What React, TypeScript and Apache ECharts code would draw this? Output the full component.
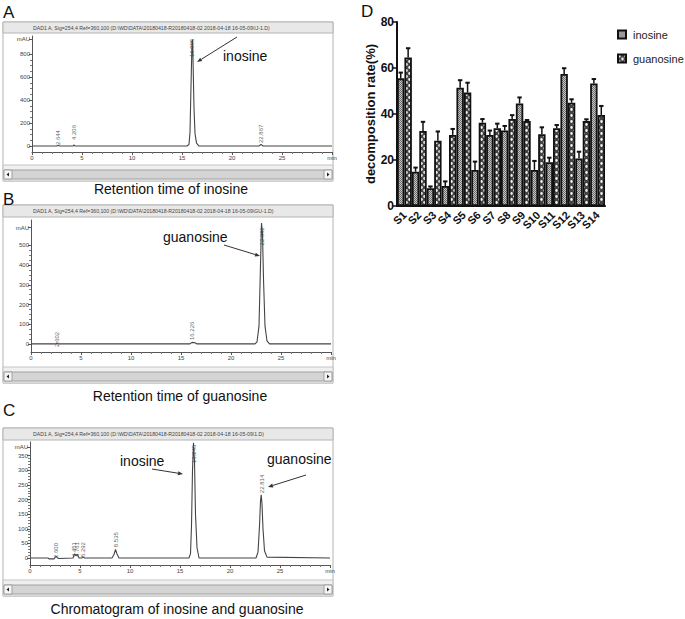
import React, { useEffect, useRef } from 'react';
import * as echarts from 'echarts';

const FONT = '"Liberation Sans", Arial, sans-serif';

// ---------- Panel D data ----------
const samples = ['S1', 'S2', 'S3', 'S4', 'S5', 'S6', 'S7', 'S8', 'S9', 'S10', 'S11', 'S12', 'S13', 'S14'];
const inosineRate = [55.5, 14.9, 7.7, 8.7, 51.4, 15.7, 30.9, 32.8, 44.6, 15.7, 19.0, 57.4, 20.7, 53.3];
const inosineErr = [2.5, 1.8, 0.8, 2.0, 3.3, 3.6, 1.9, 2.0, 2.6, 3.9, 2.0, 2.5, 2.9, 1.9];
const guanosineRate = [64.6, 32.6, 28.4, 30.9, 49.3, 36.2, 33.8, 37.8, 37.0, 31.2, 33.8, 44.9, 37.0, 39.6];
const guanosineErr = [4.0, 4.0, 4.0, 2.6, 4.3, 1.6, 2.0, 1.7, 0.4, 3.0, 1.4, 1.5, 0.7, 3.9];
const rateTicks = [0, 20, 40, 60, 80];

// ---------- Chromatogram A (inosine) ----------
const timesA = [0, 2.5, 2.6, 2.7, 2.8, 4.1, 4.2, 4.3, 15.5, 15.7, 15.8, 15.9, 16.0, 16.05, 16.1, 16.2, 16.3, 16.45, 16.7, 22.7, 22.9, 23.1, 30];
const signalA = [0, 0, 6, 3, 0, 0, 9, 0, 0, 15, 120, 520, 905, 925, 760, 330, 110, 25, 0, 0, 14, 0, 0];
const peakNamesA = ['2.644', '4.206', '16.005', '22.867'];
const peakTimesA = [2.6, 4.2, 16.0, 22.9];
const peakLabelBaseA = [8, 52, 774, 26];
const ticksA = [0, 200, 400, 600, 800];

// ---------- Chromatogram B (guanosine) ----------
const timesB = [0, 2.5, 2.6, 2.7, 15.9, 16.1, 16.4, 16.6, 22.4, 22.6, 22.8, 22.95, 23.05, 23.15, 23.25, 23.4, 23.6, 23.85, 30];
const signalB = [0, 0, 5, 0, 0, 8, 6, 0, 0, 10, 90, 400, 614, 560, 330, 90, 15, 0, 0];
const peakNamesB = ['2.602', '16.226', '22.962'];
const peakTimesB = [2.6, 16.1, 23.05];
const peakLabelBaseB = [-15, 20, 500];
const ticksB = [0, 100, 200, 300, 400, 500];

// ---------- Chromatogram C (mixture) ----------
const timesC = [0, 1.8, 1.9, 2.4, 2.6, 2.75, 2.9, 4.3, 4.45, 4.6, 4.75, 4.9, 5.2, 5.3, 5.45, 8.2, 8.4, 8.55, 8.7, 8.9, 15.9, 16.05, 16.15, 16.25, 16.35, 16.45, 16.55, 16.7, 16.9, 22.6, 22.8, 22.95, 23.05, 23.12, 23.2, 23.3, 23.45, 23.7, 30];
const signalC = [0, 0, -3, -3, 6, 0, -2, 0, 14, 8, 12, 0, 0, 4, 0, 0, 12, 29, 14, 0, 0, 15, 110, 300, 394, 330, 150, 35, 0, 0, 20, 110, 195, 216, 185, 100, 25, 3, 0];
const peakNamesC = ['2.600', '4.451', '4.761', '5.292', '8.535', '16.245', '22.814'];
const peakTimesC = [2.6, 4.4, 4.7, 5.3, 8.6, 16.35, 23.2];
const peakLabelBaseC = [0, 3, 3, 3, 37, 325, 222];
const ticksC = [0, 50, 100, 150, 200, 250, 300, 350];

const headerA = 'DAD1 A, Sig=254,4 Ref=360,100 (D:\\WD\\DATA\\20180418-R20180418-02 2018-04-18 16-05-09\\IJ-1.D)';
const headerB = 'DAD1 A, Sig=254,4 Ref=360,100 (D:\\WD\\DATA\\20180418-R20180418-02 2018-04-18 16-05-09\\GU-1.D)';
const headerC = 'DAD1 A, Sig=254,4 Ref=360,100 (D:\\WD\\DATA\\20180418-R20180418-02 2018-04-18 16-05-09\\1.D)';

function makePattern(kind: 'ino' | 'gua') {
  const c = document.createElement('canvas');
  if (kind === 'ino') {
    c.width = 2; c.height = 2;
    const g = c.getContext('2d')!;
    g.fillStyle = '#c6c6c6'; g.fillRect(0, 0, 2, 2);
    g.fillStyle = '#6c6c6c'; g.fillRect(0, 0, 1, 1); g.fillRect(1, 1, 1, 1);
    return { image: c.toDataURL(), repeat: 'repeat', imageWidth: 2, imageHeight: 2 };
  }
  c.width = 6; c.height = 6;
  const g = c.getContext('2d')!;
  g.fillStyle = '#444444'; g.fillRect(0, 0, 6, 6);
  g.fillStyle = '#f2f2f2';
  g.beginPath(); g.ellipse(1.5, 1.5, 1.25, 1.4, 0, 0, Math.PI * 2); g.fill();
  g.beginPath(); g.ellipse(4.5, 4.5, 1.25, 1.4, 0, 0, Math.PI * 2); g.fill();
  return { image: c.toDataURL(), repeat: 'repeat', imageWidth: 6, imageHeight: 6 };
}

function arrow(x1: number, y1: number, x2: number, y2: number) {
  const dx = x2 - x1, dy = y2 - y1, L = Math.hypot(dx, dy), ux = dx / L, uy = dy / L;
  const hl = 5, hw = 2;
  const bx = x2 - ux * hl, by = y2 - uy * hl;
  return [
    { type: 'line', z: 10, shape: { x1, y1, x2: bx, y2: by }, style: { stroke: '#333', lineWidth: 1 } },
    { type: 'polygon', z: 10, shape: { points: [[x2, y2], [bx - uy * hw, by + ux * hw], [bx + uy * hw, by - ux * hw]] }, style: { fill: '#333' } },
  ];
}

function windowFrame(y0: number, headerH: number, scrollY: number, bottom: number, header: string) {
  return [
    { type: 'rect', z: 0, shape: { x: 3, y: y0, width: 330, height: bottom - y0 }, style: { fill: '#ffffff', stroke: '#b4b4b4', lineWidth: 1 } },
    { type: 'rect', z: 1, shape: { x: 3, y: y0, width: 330, height: headerH }, style: { fill: '#e8e8e8', stroke: '#b4b4b4', lineWidth: 1 } },
    { type: 'text', z: 2, x: 33, y: y0 + headerH / 2, style: { text: header, fontSize: 5.2, fontFamily: FONT, fill: '#444', align: 'left', verticalAlign: 'middle' } },
    { type: 'rect', z: 1, shape: { x: 3, y: scrollY - 5, width: 330, height: bottom - scrollY + 5 }, style: { fill: '#f0f0f0', stroke: '#c4c4c4', lineWidth: 1 } },
    { type: 'rect', z: 2, shape: { x: 4, y: scrollY, width: 328, height: 9 }, style: { fill: '#d4d4d4', stroke: '#a0a0a0', lineWidth: 1 } },
    { type: 'rect', z: 3, shape: { x: 4, y: scrollY, width: 8, height: 9 }, style: { fill: '#f6f6f6', stroke: '#a0a0a0', lineWidth: 1 } },
    { type: 'rect', z: 3, shape: { x: 324, y: scrollY, width: 8, height: 9 }, style: { fill: '#f6f6f6', stroke: '#a0a0a0', lineWidth: 1 } },
    { type: 'polygon', z: 4, shape: { points: [[6.5, scrollY + 4.5], [9, scrollY + 2.5], [9, scrollY + 6.5]] }, style: { fill: '#222' } },
    { type: 'polygon', z: 4, shape: { points: [[329.5, scrollY + 4.5], [327, scrollY + 2.5], [327, scrollY + 6.5]] }, style: { fill: '#222' } },
  ];
}

function text(t: string, x: number, y: number, size: number, align = 'center', extra: any = {}) {
  return { type: 'text', z: 10, x, y, style: { text: t, fontSize: size, fontFamily: FONT, fill: '#111', align, verticalAlign: 'middle', ...extra } };
}

function chromX(gridIndex: number) {
  return {
    type: 'value', gridIndex, min: 0, max: 30, interval: 5,
    axisLine: { onZero: false, lineStyle: { color: '#555', width: 1 } },
    axisTick: { length: 3, lineStyle: { color: '#555' } },
    minorTick: { show: true, splitNumber: 5, length: 2, lineStyle: { color: '#777' } },
    splitLine: { show: false }, minorSplitLine: { show: false },
    axisLabel: { fontSize: 6, color: '#444', margin: 3, fontFamily: FONT, formatter: (v: number) => (v === 30 ? 'min' : String(v)) },
  };
}

function chromY(gridIndex: number, min: number, max: number, ticks: number[], mau: number, minorStep: number) {
  const minor: number[] = [];
  for (let v = 0; v <= ticks[ticks.length - 1]; v += minorStep) if (!ticks.includes(v)) minor.push(v);
  return [
    {
      type: 'value', gridIndex, min, max, position: 'left',
      axisLine: { show: true, onZero: false, lineStyle: { color: '#555', width: 1 } },
      axisTick: { show: true, length: 3, customValues: [...ticks, mau], lineStyle: { color: '#555' } },
      axisLabel: { customValues: [...ticks, mau], fontSize: 6, color: '#444', margin: 2, fontFamily: FONT, formatter: (v: number) => (v === mau ? 'mAU' : String(v)) },
      splitLine: { show: false },
    },
    {
      type: 'value', gridIndex, min, max, position: 'left', offset: 0,
      axisLine: { show: false, onZero: false },
      axisTick: { show: true, length: 2, customValues: minor, lineStyle: { color: '#777' } },
      axisLabel: { show: false },
      splitLine: { show: false },
    },
  ];
}

function chromLine(xi: number, yi: number, times: number[], vals: number[]) {
  return {
    type: 'line', xAxisIndex: xi, yAxisIndex: yi, symbol: 'none', silent: true,
    lineStyle: { color: '#444', width: 1.1 },
    data: times.map((t, i) => [t, vals[i]]),
  };
}

function peakLabels(xi: number, yi: number, names: string[], times: number[], bases: number[]) {
  return {
    type: 'scatter', xAxisIndex: xi, yAxisIndex: yi, symbolSize: 1, silent: true,
    itemStyle: { color: 'rgba(0,0,0,0)' },
    label: { show: true, formatter: '{b}', rotate: 90, position: 'inside', align: 'left', verticalAlign: 'middle', fontSize: 6, color: '#333', fontFamily: FONT },
    data: names.map((n, i) => ({ name: n, value: [times[i], bases[i]] })),
  };
}

function errorSeries(vals: number[], errs: number[], side: number) {
  return {
    type: 'custom', xAxisIndex: 3, yAxisIndex: 6, z: 5, silent: true,
    data: vals.map((v, i) => [i, v, errs[i]]),
    encode: { x: 0, y: 1 },
    renderItem: (params: any, api: any) => {
      const idx = api.value(0), v = api.value(1), e = api.value(2);
      const bw = api.size([1, 0])[0];
      const base = api.coord([idx, v]);
      const top = api.coord([idx, v + e]);
      const x = base[0] + side * bw / 4;
      return {
        type: 'group',
        children: [
          { type: 'line', shape: { x1: x, y1: base[1], x2: x, y2: top[1] }, style: { stroke: '#111', lineWidth: 1.5 } },
          { type: 'line', shape: { x1: x - 2.2, y1: top[1], x2: x + 2.2, y2: top[1] }, style: { stroke: '#111', lineWidth: 2 } },
        ],
      };
    },
  };
}

export default function App() {
  const ref = useRef<HTMLDivElement>(null);
  useEffect(() => {
    const chart = echarts.init(ref.current!, null, { renderer: 'svg' });
    const inoFill = makePattern('ino');
    const guaFill = makePattern('gua');

    const graphic: any[] = [
      ...windowFrame(22, 11, 170, 181, headerA),
      ...windowFrame(205, 12, 372, 383, headerB),
      ...windowFrame(428, 12, 585, 596, headerC),
      text('A', 3, 12, 17, 'left'),
      text('B', 3, 199, 17, 'left'),
      text('C', 3, 410, 17, 'left'),
      text('D', 361, 11, 17, 'left'),
      text('Retention time of inosine', 171, 189, 14),
      text('Retention time of guanosine', 180, 396, 14),
      text('Chromatogram of inosine and guanosine', 177, 609, 14),
      text('inosine', 223, 56, 14, 'left'),
      text('guanosine', 163, 237, 14, 'left'),
      text('inosine', 120, 461, 14, 'left'),
      text('guanosine', 267, 459, 14, 'left'),
      ...arrow(237, 37, 197, 62),
      ...arrow(224, 245, 260, 256),
      ...arrow(152, 469, 183, 474),
      ...arrow(306, 475, 268, 487),
    ];

    const option: any = {
      animation: false,
      backgroundColor: '#ffffff',
      textStyle: { fontFamily: FONT },
      graphic,
      grid: [
        { left: 32, top: 36, width: 300, height: 116 },
        { left: 31, top: 220, width: 300, height: 132 },
        { left: 30, top: 442, width: 300, height: 123 },
        { left: 397, top: 22, width: 208, height: 184 },
      ],
      legend: {
        data: ['inosine', 'guanosine'],
        orient: 'vertical', left: 617, top: 29, padding: 0,
        itemWidth: 8, itemHeight: 8, itemGap: 13,
        icon: 'rect',
        textStyle: { fontSize: 11, color: '#222', fontFamily: FONT, padding: [0, 0, 0, 2] },
      },
      xAxis: [
        chromX(0), chromX(1), chromX(2),
        {
          type: 'category', gridIndex: 3, data: samples, boundaryGap: true,
          axisLine: { onZero: false, lineStyle: { color: '#111', width: 2 } },
          axisTick: { alignWithLabel: true, length: 4, lineStyle: { color: '#111', width: 1.5 } },
          axisLabel: { rotate: 45, fontWeight: 'bold', fontSize: 11, color: '#111', margin: 7, fontFamily: FONT, interval: 0 },
        },
      ],
      yAxis: [
        ...chromY(0, -52, 957, ticksA, 931, 50),
        ...chromY(1, -41, 629, ticksB, 590, 25),
        ...chromY(2, -24, 397, ticksC, 380, 10),
        {
          type: 'value', gridIndex: 3, min: rateTicks[0], max: rateTicks[rateTicks.length - 1], interval: 20,
          name: 'decomposition rate(%)', nameLocation: 'middle', nameGap: 19,
          nameTextStyle: { fontWeight: 'bold', fontSize: 13, color: '#111', fontFamily: FONT },
          axisLine: { show: true, lineStyle: { color: '#111', width: 2 } },
          axisTick: { show: true, length: 4, lineStyle: { color: '#111', width: 1.5 } },
          axisLabel: { fontWeight: 'bold', fontSize: 12, color: '#111', margin: 3, fontFamily: FONT },
          splitLine: { show: false },
        },
      ],
      series: [
        chromLine(0, 0, timesA, signalA),
        peakLabels(0, 0, peakNamesA, peakTimesA, peakLabelBaseA),
        chromLine(1, 2, timesB, signalB),
        peakLabels(1, 2, peakNamesB, peakTimesB, peakLabelBaseB),
        chromLine(2, 4, timesC, signalC),
        peakLabels(2, 4, peakNamesC, peakTimesC, peakLabelBaseC),
        {
          name: 'inosine', type: 'bar', xAxisIndex: 3, yAxisIndex: 6,
          data: inosineRate, barGap: '0%', barCategoryGap: '0%',
          itemStyle: { color: inoFill, borderColor: '#111', borderWidth: 1.8 },
        },
        {
          name: 'guanosine', type: 'bar', xAxisIndex: 3, yAxisIndex: 6,
          data: guanosineRate, barGap: '0%', barCategoryGap: '0%',
          itemStyle: { color: guaFill, borderColor: '#111', borderWidth: 1.8 },
        },
        errorSeries(inosineRate, inosineErr, -1),
        errorSeries(guanosineRate, guanosineErr, 1),
      ],
    };
    chart.setOption(option);
    return () => chart.dispose();
  }, []);
  return <div ref={ref} style={{ position: 'fixed', left: 0, top: 0, width: 685, height: 619 }} />;
}
